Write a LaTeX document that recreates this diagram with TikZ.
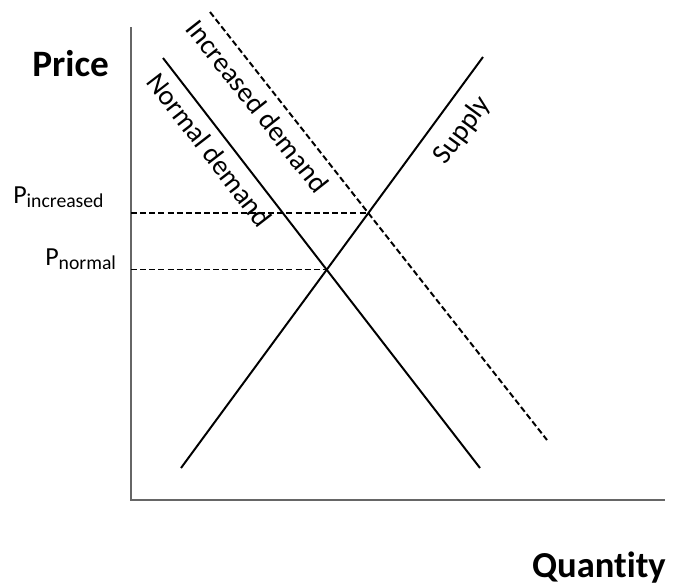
\documentclass[tikz,border=0pt]{standalone}
\usepackage{fontspec}
\setmainfont{Carlito}[Ligatures=NoCommon]
\usetikzlibrary{calc}
\tikzset{
    axisline/.style={draw=black!60, line width=1.3pt},
    curve/.style={draw=black, line width=1.4pt},
    shifted/.style={curve, dash pattern=on 4.3pt off 2.2pt},
    guide/.style={draw=black, line width=1.1pt, dash pattern=on 4.3pt off 2.2pt},
    axislabel/.style={font=\fontsize{26.5}{26.5}\selectfont\bfseries, inner sep=0pt},
    curvelabel/.style={font=\fontsize{20}{20}\selectfont, text=black, sloped, inner sep=2pt},
    pricelabel/.style={font=\fontsize{18.5}{18.5}\selectfont, text=black, inner sep=0pt, anchor=base west},
}
\newcommand{\psub}[1]{P\raisebox{-3.5pt}{\fontsize{14}{14}\selectfont #1}}

\begin{document}
\begin{tikzpicture}[x=0.025cm, y=-0.025cm]
    \useasboundingbox (0,0) rectangle (679,585);

    % axes
    \coordinate (origin) at (131,500);
    \coordinate (ytop) at (131,27);
    \coordinate (xend) at (665,500);
    \draw[axisline] (ytop) -- (origin) -- (xend);
    \node[axislabel, anchor=base west] (price) at (32,76) {Price};
    \node[axislabel, anchor=base east, font=\fontsize{26}{26}\selectfont\bfseries] (quantity) at (666,577) {Quantity};

    % supply and demand curves
    \coordinate (s1) at (181,468);
    \coordinate (s2) at (483,57);
    \coordinate (d1) at (163,58);
    \coordinate (d2) at (480,468);
    \coordinate (i1) at (210,12);
    \coordinate (i2) at (547,440);
    \draw[curve] (s1) -- (s2) node[curvelabel, below=8pt, pos=0.86] (supply) {Supply};
    \draw[curve] (d1) -- (d2) node[curvelabel, below=4pt, pos=0.195] (normal) {Normal demand};
    \draw[shifted] (i1) -- (i2) node[curvelabel, below=5pt, pos=0.19] (increased) {Increased demand};

    % equilibrium prices
    \coordinate (eqn) at (intersection of s1--s2 and d1--d2);
    \coordinate (eqi) at (intersection of s1--s2 and i1--i2);
    \coordinate (pn) at (origin |- eqn);
    \coordinate (pi) at (origin |- eqi);
    \draw[guide] (pi) -- (eqi);
    \draw[guide] (pn) -- (eqn);
    \node[pricelabel] (pinc) at (13,203) {\psub{increased}};
    \node[pricelabel] (pnorm) at (45,265) {\psub{normal}};
\end{tikzpicture}
\end{document}
